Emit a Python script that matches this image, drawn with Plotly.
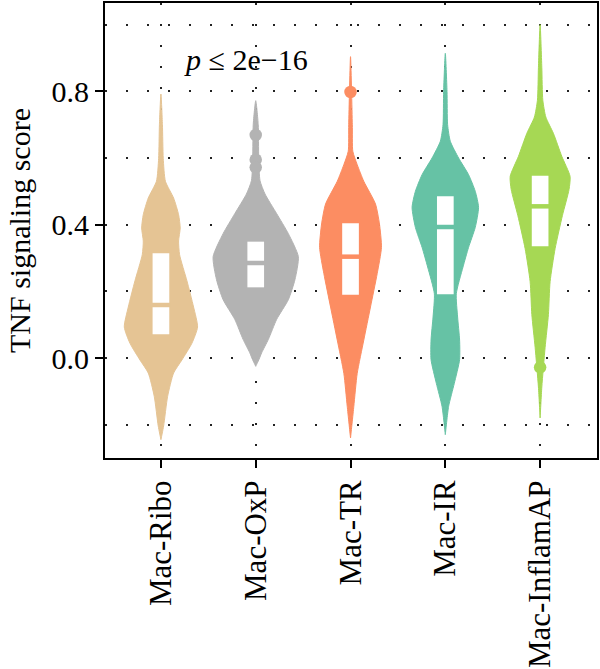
import plotly.graph_objects as go

categories = ["Mac-Ribo", "Mac-OxP", "Mac-TR", "Mac-IR", "Mac-InflamAP"]
colors = ["#E5C494", "#B3B3B3", "#FC8D62", "#66C2A5", "#A6D854"]

# violin density profiles: score levels and relative density (half-width)
ribo_y = [0.792, 0.70, 0.599, 0.53, 0.48, 0.43, 0.39, 0.351, 0.31, 0.232, 0.153, 0.093, 0.044, -0.006, -0.045, -0.115, -0.204, -0.245]
ribo_d = [0.0, 1.5, 2.3, 4.5, 12.7, 17.7, 19.3, 17.7, 18.7, 26.0, 32.7, 36.7, 31.0, 21.0, 12.7, 6.7, 2.7, 0.0]

oxp_y = [0.772, 0.70, 0.60, 0.532, 0.492, 0.433, 0.373, 0.304, 0.235, 0.175, 0.116, 0.056, 0.016, -0.004, -0.025]
oxp_d = [0.0, 2.5, 3.0, 4.3, 9.3, 21.0, 32.7, 42.7, 39.3, 32.7, 21.0, 12.7, 6.0, 3.3, 0.0]

tr_y = [0.904, 0.70, 0.62, 0.58, 0.53, 0.462, 0.402, 0.332, 0.253, 0.153, 0.054, -0.046, -0.145, -0.24]
tr_d = [0.0, 1.8, 2.3, 6.7, 13.3, 25.0, 29.0, 31.0, 26.7, 20.0, 13.3, 6.7, 3.3, 0.0]

ir_y = [0.914, 0.80, 0.70, 0.65, 0.60, 0.55, 0.50, 0.452, 0.392, 0.332, 0.273, 0.193, 0.123, 0.054, -0.005, -0.076, -0.145, -0.23]
ir_d = [0.0, 1.7, 2.3, 5.0, 13.3, 23.3, 30.0, 33.3, 30.0, 23.3, 17.7, 11.0, 12.3, 14.3, 14.3, 9.0, 3.3, 0.0]

infl_y = [1.0, 0.871, 0.773, 0.723, 0.674, 0.605, 0.545, 0.506, 0.427, 0.328, 0.229, 0.13, 0.032, -0.087, -0.18]
infl_d = [0.0, 1.7, 2.7, 5.7, 13.3, 21.7, 30.0, 29.0, 22.3, 15.0, 10.0, 8.3, 5.0, 1.7, 0.0]

# box statistics
q1 = [0.071, 0.212, 0.19, 0.191, 0.335]
median = [0.159, 0.285, 0.304, 0.393, 0.455]
q3 = [0.314, 0.349, 0.404, 0.485, 0.547]

# outliers
out_x = ["Mac-OxP", "Mac-OxP", "Mac-OxP", "Mac-TR", "Mac-InflamAP"]
out_y = [0.669, 0.595, 0.572, 0.798, -0.028]

profiles = [(ribo_y, ribo_d), (oxp_y, oxp_d), (tr_y, tr_d), (ir_y, ir_d), (infl_y, infl_d)]
DENS_SCALE = 1 / 95.0
BOX_HALF = 0.088

fig = go.Figure()
for i, (ys, ds) in enumerate(profiles):
    xs = [i + d * DENS_SCALE for d in ds] + [i - d * DENS_SCALE for d in reversed(ds)]
    yy = list(ys) + list(reversed(ys))
    fig.add_trace(go.Scatter(x=xs, y=yy, mode="lines", fill="toself",
                             fillcolor=colors[i], line=dict(color=colors[i], width=1, shape="spline", smoothing=0.6),
                             hoverinfo="skip", showlegend=False))

idx = {c: i for i, c in enumerate(categories)}
fig.add_trace(go.Scatter(x=[idx[c] for c in out_x], y=out_y, mode="markers",
                         marker=dict(size=12.5, color=[colors[idx[c]] for c in out_x]),
                         showlegend=False, hoverinfo="skip"))

for i in range(len(categories)):
    fig.add_shape(type="rect", xref="x", yref="y", x0=i - BOX_HALF, x1=i + BOX_HALF,
                  y0=q1[i], y1=q3[i], fillcolor="white", line=dict(width=0), layer="above")
    fig.add_shape(type="line", xref="x", yref="y", x0=i - BOX_HALF - 0.01, x1=i + BOX_HALF + 0.01,
                  y0=median[i], y1=median[i], line=dict(color=colors[i], width=4.5), layer="above")

font = "Liberation Serif"
fig.add_annotation(x=0.9, y=0.895, xref="x", yref="y", text="<i>p</i> ≤ 2e−16", showarrow=False,
                   font=dict(family=font, size=30, color="black"))

grid = dict(gridcolor="#222222", gridwidth=1.6, griddash="2px,19px")
fig.update_layout(
    width=600, height=669, margin=dict(l=105, r=3, t=1, b=210),
    plot_bgcolor="white", paper_bgcolor="white",
    font=dict(family=font, size=30, color="black"),
    xaxis=dict(range=[-0.59, 4.6], tickvals=list(range(len(categories))), ticktext=categories,
               tickangle=-90, ticks="outside", ticklen=8, tickwidth=2, tickcolor="black",
               showline=True, linewidth=2, linecolor="black", mirror=True, showgrid=True,
               zeroline=False, tickfont=dict(family=font, size=31), **grid),
    yaxis=dict(range=[-0.30, 1.065], tickvals=[0.0, 0.4, 0.8], ticktext=["0.0", "0.4", "0.8"],
               ticks="outside", ticklen=8, tickwidth=2, tickcolor="black",
               showline=True, linewidth=2, linecolor="black", mirror=True, showgrid=True,
               zeroline=False, tickfont=dict(family=font, size=30),
               title=dict(text="TNF signaling score", font=dict(family=font, size=30), standoff=12),
               minor=dict(tickvals=[-0.2, 0.2, 0.6, 1.0], showgrid=True, ticks="", **grid),
               **grid),
)

fig.write_html("out.html")
